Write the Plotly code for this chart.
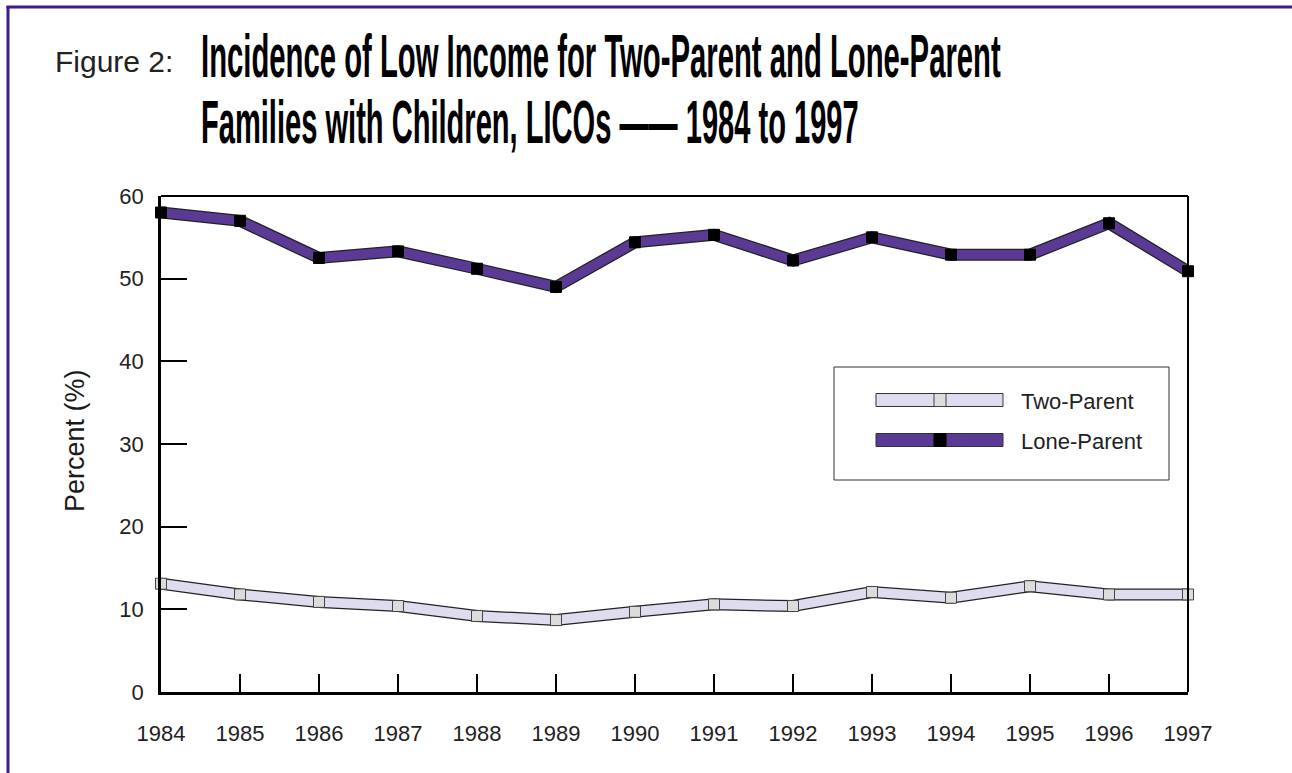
import json
import plotly.graph_objects as go

# ---- data -------------------------------------------------------------
years = [1984, 1985, 1986, 1987, 1988, 1989, 1990,
         1991, 1992, 1993, 1994, 1995, 1996, 1997]
two_parent = [13.1, 11.8, 10.9, 10.4, 9.2, 8.7, 9.7,
              10.6, 10.4, 12.1, 11.4, 12.8, 11.8, 11.8]
lone_parent = [58.0, 57.0, 52.5, 53.3, 51.2, 49.0, 54.4,
               55.3, 52.2, 55.0, 52.9, 52.9, 56.7, 50.9]
y_ticks = [0, 10, 20, 30, 40, 50, 60]
series_names = ["Two-Parent", "Lone-Parent"]
title_lines = ["Incidence of Low Income for Two-Parent and Lone-Parent",
               "Families with Children, LICOs \u2014\u2014 1984 to 1997"]

# ---- page geometry (pixels) --------------------------------------------
W, H = 1292, 773
L, R, T, B = 161, 1188, 196, 692          # plot-area edges


def px(x):
    return (x - L) / (R - L)


def py(y):
    return (B - y) / (B - T)


PURPLE = "#5b3a96"
LAVENDER = "#e0dcf0"
FRAME = "#3f1b8c"
TEXT = "#222222"
SANS = "Liberation Sans, Arial, sans-serif"

fig = go.Figure()


def banded_line(ys, fill, marker_fill, marker_line):
    # dark outline underneath, coloured band on top, square markers last
    fig.add_trace(go.Scatter(x=years, y=ys, mode="lines",
                             line=dict(color="#222222", width=12),
                             hoverinfo="skip", showlegend=False, cliponaxis=False))
    fig.add_trace(go.Scatter(x=years, y=ys, mode="lines",
                             line=dict(color=fill, width=9.5),
                             hoverinfo="skip", showlegend=False, cliponaxis=False))
    fig.add_trace(go.Scatter(x=years, y=ys, mode="markers",
                             marker=dict(symbol="square", size=11, color=marker_fill,
                                         line=dict(color=marker_line, width=1)),
                             showlegend=False, cliponaxis=False))


banded_line(two_parent, LAVENDER, "#dcdcdc", "#444444")
banded_line(lone_parent, PURPLE, "#000000", "#000000")

shapes = []
# plot frame: thin top and right edges
shapes.append(dict(type="line", xref="paper", yref="paper", x0=0, x1=1, y0=1, y1=1,
                   line=dict(color="#000", width=2)))
shapes.append(dict(type="line", xref="paper", yref="paper", x0=1, x1=1, y0=0, y1=1,
                   line=dict(color="#000", width=2)))

# page border (left and top)
shapes.append(dict(type="line", xref="paper", yref="paper",
                   x0=px(8), x1=px(8), y0=py(6), y1=py(H + 5),
                   line=dict(color=FRAME, width=3)))
shapes.append(dict(type="line", xref="paper", yref="paper",
                   x0=px(6.5), x1=px(W + 5), y0=py(7), y1=py(7),
                   line=dict(color=FRAME, width=3)))

# legend box
shapes.append(dict(type="rect", xref="paper", yref="paper",
                   x0=px(834), x1=px(1169), y0=py(367), y1=py(480),
                   line=dict(color="#333", width=1), fillcolor="white"))
legend_rows = [(400, LAVENDER, "#dcdcdc", "#444444"),
               (440, PURPLE, "#000000", "#000000")]
for yc, fill, mfill, mline in legend_rows:
    shapes.append(dict(type="rect", xref="paper", yref="paper",
                       x0=px(876), x1=px(1003), y0=py(yc - 6.5), y1=py(yc + 6.5),
                       line=dict(color="#333", width=1), fillcolor=fill))
    shapes.append(dict(type="rect", xref="paper", yref="paper",
                       x0=px(934), x1=px(946), y0=py(yc - 6.5), y1=py(yc + 6.5),
                       line=dict(color=mline, width=1), fillcolor=mfill))

annotations = []
for (yc, *_), name in zip(legend_rows, series_names):
    annotations.append(dict(xref="paper", yref="paper", x=px(1019), y=py(yc + 1),
                            text=name, showarrow=False, xanchor="left", yanchor="middle",
                            font=dict(family=SANS, size=22, color=TEXT)))

# y-axis title
annotations.append(dict(xref="paper", yref="paper", x=px(75), y=py(441),
                        text="Percent (%)", textangle=-90, showarrow=False,
                        xanchor="center", yanchor="middle",
                        font=dict(family=SANS, size=27, color="#1a1a1a")))

# figure heading
annotations.append(dict(xref="paper", yref="paper", x=px(53), y=py(62),
                        text="Figure 2:", showarrow=False, xanchor="left", yanchor="middle",
                        font=dict(family=SANS, size=30, color=TEXT)))
title_width = {title_lines[0]: 800, title_lines[1]: 658}
for text, yc in zip(title_lines, [55, 121]):
    annotations.append(dict(xref="paper", yref="paper", x=px(199), y=py(yc),
                            text=text, showarrow=False, xanchor="left", yanchor="middle",
                            align="left",
                            font=dict(family=SANS, size=62, color="#000", weight="bold")))

fig.update_layout(
    width=W, height=H,
    margin=dict(l=L, r=W - R, t=T, b=H - B, pad=0),
    paper_bgcolor="white", plot_bgcolor="white",
    shapes=shapes, annotations=annotations,
    showlegend=False,
    xaxis=dict(range=[years[0], years[-1]], tickvals=years,
               ticktext=[str(y) for y in years],
               showgrid=False, zeroline=False,
               showline=True, linecolor="#000", linewidth=3,
               ticks="inside", ticklen=18, tickwidth=2, tickcolor="#000",
               ticklabelstandoff=20,
               tickfont=dict(family=SANS, size=22, color=TEXT)),
    yaxis=dict(range=[0, 60], tickvals=y_ticks,
               showgrid=False, zeroline=False,
               showline=True, linecolor="#000", linewidth=2.5,
               ticks="inside", ticklen=26, tickwidth=1.5, tickcolor="#000",
               ticklabelstandoff=10,
               tickfont=dict(family=SANS, size=22, color=TEXT)),
)

# narrow the heading lines horizontally (anchored at their left edge) so
# each one spans its set width
condense_js = """
(function(){
  var widths = %s;
  var gd = document.querySelector('.js-plotly-plot');
  function squeeze(){
    gd.querySelectorAll('g.annotation').forEach(function(g){
      var t = g.querySelector('text.annotation-text');
      if (!t) { return; }
      var w = widths[t.textContent];
      if (!w) { return; }
      g.style.transform = '';
      var natural = t.getBoundingClientRect().width;
      if (!natural) { return; }
      var k = w / natural;
      g.style.transformOrigin = (t.getBoundingClientRect().left) + 'px 0px';
      g.style.transform = 'scale(' + k + ', 1)';
    });
  }
  squeeze();
  setTimeout(squeeze, 30);
})();
""" % json.dumps(title_width)

fig.write_html("out.html", post_script=condense_js)
